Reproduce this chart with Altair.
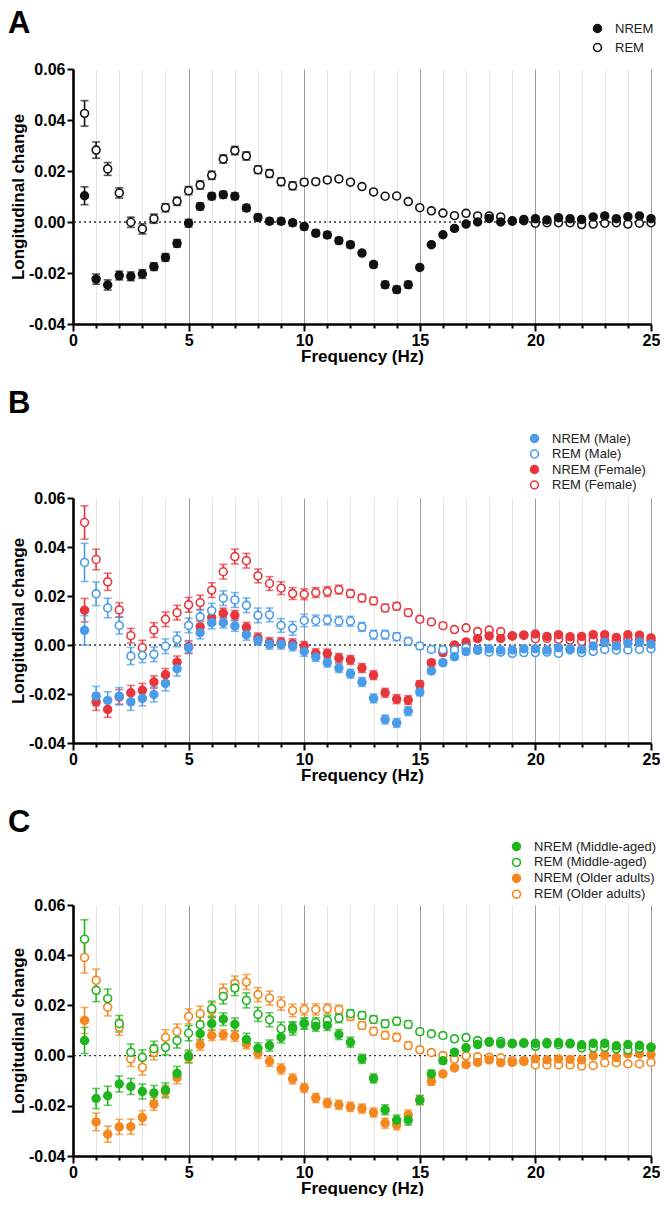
import altair as alt
import pandas as pd

FREQ = [0.5, 1.0, 1.5, 2.0, 2.5, 3.0, 3.5, 4.0, 4.5, 5.0,
        5.5, 6.0, 6.5, 7.0, 7.5, 8.0, 8.5, 9.0, 9.5, 10.0,
        10.5, 11.0, 11.5, 12.0, 12.5, 13.0, 13.5, 14.0, 14.5, 15.0,
        15.5, 16.0, 16.5, 17.0, 17.5, 18.0, 18.5, 19.0, 19.5, 20.0,
        20.5, 21.0, 21.5, 22.0, 22.5, 23.0, 23.5, 24.0, 24.5, 25.0]

# ---------------- Panel A ----------------
A_NAMES = ["NREM", "REM"]
A_COLORS = ["#111111", "#111111"]
A_FILLS = ["#111111", "white"]
A_NREM = [0.0103, -0.0224, -0.0247, -0.0210, -0.0213, -0.0204, -0.0175, -0.0139, -0.0084, -0.0005,
          0.0061, 0.0101, 0.0107, 0.0101, 0.0055, 0.0018, 0.0003, 0.0003, -0.0003, -0.0018,
          -0.0044, -0.0051, -0.0073, -0.0089, -0.0122, -0.0167, -0.0246, -0.0265, -0.0246, -0.0178,
          -0.0089, -0.0050, -0.0025, -0.0008, 0.0000, 0.0014, 0.0000, 0.0003, 0.0010, 0.0013,
          0.0008, 0.0017, 0.0013, 0.0010, 0.0020, 0.0024, 0.0013, 0.0021, 0.0024, 0.0013]
A_NREM_SEM = [0.0035, 0.0020, 0.0020, 0.0017, 0.0017, 0.0017, 0.0015, 0.0015, 0.0015, 0.0015,
              0.0013, 0.0013, 0.0013, 0.0013, 0.0013, 0.0012, 0.0012, 0.0012, 0.0012, 0.0012,
              0.0012, 0.0012, 0.0012, 0.0012, 0.0008, 0.0012, 0.0013, 0.0013, 0.0013, 0.0008,
              0.0006, 0.0006, 0.0006, 0.0005, 0.0005, 0.0005, 0.0005, 0.0005, 0.0005, 0.0005,
              0.0005, 0.0005, 0.0005, 0.0005, 0.0005, 0.0005, 0.0005, 0.0005, 0.0005, 0.0005]
A_REM = [0.0426, 0.0282, 0.0208, 0.0114, -0.0001, -0.0027, 0.0013, 0.0056, 0.0081, 0.0123,
         0.0145, 0.0183, 0.0247, 0.0280, 0.0259, 0.0205, 0.0190, 0.0158, 0.0142, 0.0156,
         0.0158, 0.0165, 0.0169, 0.0156, 0.0139, 0.0118, 0.0101, 0.0102, 0.0080, 0.0056,
         0.0044, 0.0035, 0.0025, 0.0034, 0.0024, 0.0024, 0.0020, 0.0005, 0.0005, -0.0005,
         -0.0003, -0.0003, -0.0003, -0.0010, -0.0008, -0.0005, -0.0003, -0.0008, -0.0005, -0.0003]
A_REM_SEM = [0.0050, 0.0032, 0.0025, 0.0020, 0.0020, 0.0020, 0.0018, 0.0016, 0.0016, 0.0016,
             0.0016, 0.0016, 0.0016, 0.0016, 0.0016, 0.0015, 0.0015, 0.0015, 0.0015, 0.0012,
             0.0010, 0.0010, 0.0008, 0.0008, 0.0007, 0.0007, 0.0007, 0.0007, 0.0006, 0.0006,
             0.0005, 0.0005, 0.0005, 0.0005, 0.0005, 0.0005, 0.0005, 0.0005, 0.0005, 0.0005,
             0.0005, 0.0005, 0.0005, 0.0005, 0.0005, 0.0005, 0.0005, 0.0005, 0.0005, 0.0005]

# ---------------- Panel B ----------------
B_NAMES = ["NREM (Male)", "REM (Male)", "NREM (Female)", "REM (Female)"]
B_COLORS = ["#4a9be8", "#4a9be8", "#e8363d", "#e8363d"]
B_FILLS = ["#4a9be8", "white", "#e8363d", "white"]
B_NREM_M = [0.0060, -0.0209, -0.0226, -0.0209, -0.0232, -0.0218, -0.0202, -0.0157, -0.0097, -0.0011,
            0.0050, 0.0091, 0.0091, 0.0078, 0.0042, 0.0019, 0.0003, 0.0003, -0.0004, -0.0026,
            -0.0049, -0.0072, -0.0094, -0.0117, -0.0151, -0.0218, -0.0304, -0.0318, -0.0270, -0.0192,
            -0.0106, -0.0072, -0.0048, -0.0027, -0.0022, -0.0015, -0.0020, -0.0020, -0.0015, -0.0015,
            -0.0020, -0.0011, -0.0015, -0.0018, -0.0004, 0.0010, -0.0004, 0.0007, 0.0012, 0.0003]
B_NREM_M_SEM = [0.0060, 0.0040, 0.0035, 0.0035, 0.0035, 0.0030, 0.0030, 0.0030, 0.0030, 0.0025,
                0.0025, 0.0025, 0.0022, 0.0022, 0.0022, 0.0020, 0.0020, 0.0020, 0.0020, 0.0020,
                0.0018, 0.0018, 0.0018, 0.0018, 0.0018, 0.0018, 0.0018, 0.0018, 0.0018, 0.0015,
                0.0012, 0.0012, 0.0012, 0.0010, 0.0008, 0.0008, 0.0008, 0.0008, 0.0008, 0.0008,
                0.0008, 0.0008, 0.0008, 0.0008, 0.0008, 0.0008, 0.0008, 0.0008, 0.0008, 0.0008]
B_REM_M = [0.0337, 0.0209, 0.0151, 0.0080, -0.0045, -0.0042, -0.0038, -0.0005, 0.0023, 0.0080,
           0.0115, 0.0140, 0.0191, 0.0184, 0.0162, 0.0121, 0.0123, 0.0080, 0.0068, 0.0100,
           0.0100, 0.0102, 0.0097, 0.0097, 0.0074, 0.0042, 0.0042, 0.0034, 0.0015, -0.0004,
           -0.0018, -0.0019, -0.0020, -0.0011, -0.0018, -0.0029, -0.0029, -0.0034, -0.0031, -0.0031,
           -0.0029, -0.0034, -0.0020, -0.0031, -0.0026, -0.0018, -0.0020, -0.0020, -0.0018, -0.0015]
B_REM_M_SEM = [0.0078, 0.0048, 0.0040, 0.0035, 0.0035, 0.0030, 0.0030, 0.0030, 0.0030, 0.0030,
               0.0030, 0.0030, 0.0030, 0.0030, 0.0030, 0.0030, 0.0028, 0.0028, 0.0028, 0.0025,
               0.0022, 0.0020, 0.0020, 0.0020, 0.0018, 0.0018, 0.0018, 0.0016, 0.0014, 0.0012,
               0.0010, 0.0010, 0.0009, 0.0008, 0.0008, 0.0008, 0.0008, 0.0008, 0.0008, 0.0008,
               0.0008, 0.0008, 0.0008, 0.0008, 0.0008, 0.0008, 0.0008, 0.0008, 0.0008, 0.0008]
B_NREM_F = [0.0142, -0.0232, -0.0263, -0.0212, -0.0195, -0.0185, -0.0151, -0.0121, -0.0070, -0.0007,
            0.0074, 0.0112, 0.0130, 0.0121, 0.0072, 0.0029, 0.0010, 0.0010, 0.0005, -0.0004,
            -0.0034, -0.0035, -0.0053, -0.0061, -0.0094, -0.0123, -0.0195, -0.0221, -0.0225, -0.0161,
            -0.0072, -0.0031, 0.0000, 0.0012, 0.0026, 0.0037, 0.0027, 0.0037, 0.0040, 0.0045,
            0.0035, 0.0042, 0.0034, 0.0035, 0.0042, 0.0042, 0.0031, 0.0042, 0.0040, 0.0029]
B_NREM_F_SEM = [0.0048, 0.0035, 0.0032, 0.0030, 0.0030, 0.0028, 0.0025, 0.0025, 0.0025, 0.0025,
                0.0022, 0.0022, 0.0020, 0.0020, 0.0020, 0.0020, 0.0020, 0.0020, 0.0020, 0.0018,
                0.0018, 0.0018, 0.0018, 0.0018, 0.0018, 0.0018, 0.0018, 0.0018, 0.0018, 0.0015,
                0.0012, 0.0012, 0.0010, 0.0010, 0.0008, 0.0008, 0.0008, 0.0008, 0.0008, 0.0008,
                0.0008, 0.0008, 0.0008, 0.0008, 0.0008, 0.0008, 0.0008, 0.0008, 0.0008, 0.0008]
B_REM_F = [0.0500, 0.0349, 0.0258, 0.0143, 0.0038, -0.0011, 0.0061, 0.0105, 0.0132, 0.0164,
           0.0173, 0.0224, 0.0299, 0.0361, 0.0344, 0.0282, 0.0251, 0.0232, 0.0210, 0.0207,
           0.0214, 0.0218, 0.0226, 0.0210, 0.0192, 0.0180, 0.0151, 0.0158, 0.0132, 0.0105,
           0.0094, 0.0079, 0.0063, 0.0070, 0.0055, 0.0061, 0.0055, 0.0037, 0.0040, 0.0026,
           0.0027, 0.0023, 0.0020, 0.0014, 0.0020, 0.0018, 0.0018, 0.0023, 0.0020, 0.0018]
B_REM_F_SEM = [0.0068, 0.0042, 0.0035, 0.0030, 0.0030, 0.0030, 0.0030, 0.0030, 0.0030, 0.0030,
               0.0030, 0.0030, 0.0030, 0.0030, 0.0030, 0.0028, 0.0028, 0.0026, 0.0024, 0.0022,
               0.0020, 0.0020, 0.0018, 0.0016, 0.0015, 0.0015, 0.0015, 0.0015, 0.0014, 0.0012,
               0.0010, 0.0010, 0.0009, 0.0008, 0.0008, 0.0008, 0.0008, 0.0008, 0.0008, 0.0008,
               0.0008, 0.0008, 0.0008, 0.0008, 0.0008, 0.0008, 0.0008, 0.0008, 0.0008, 0.0008]

# ---------------- Panel C ----------------
C_NAMES = ["NREM (Middle-aged)", "REM (Middle-aged)", "NREM (Older adults)", "REM (Older adults)"]
C_COLORS = ["#1fb51f", "#1fb51f", "#f5871f", "#f5871f"]
C_FILLS = ["#1fb51f", "white", "#f5871f", "white"]
C_NREM_MID = [0.0060, -0.0171, -0.0160, -0.0113, -0.0123, -0.0143, -0.0149, -0.0137, -0.0071, -0.0003,
              0.0087, 0.0127, 0.0145, 0.0125, 0.0064, 0.0029, 0.0040, 0.0073, 0.0113, 0.0129,
              0.0117, 0.0120, 0.0084, 0.0053, -0.0013, -0.0091, -0.0216, -0.0257, -0.0257, -0.0177,
              -0.0073, -0.0020, 0.0013, 0.0031, 0.0044, 0.0056, 0.0047, 0.0049, 0.0051, 0.0049,
              0.0052, 0.0052, 0.0049, 0.0043, 0.0049, 0.0049, 0.0039, 0.0044, 0.0041, 0.0033]
C_NREM_MID_SEM = [0.0052, 0.0040, 0.0038, 0.0032, 0.0032, 0.0030, 0.0030, 0.0028, 0.0028, 0.0025,
                  0.0025, 0.0025, 0.0025, 0.0025, 0.0025, 0.0022, 0.0022, 0.0022, 0.0022, 0.0022,
                  0.0020, 0.0020, 0.0020, 0.0020, 0.0018, 0.0018, 0.0020, 0.0020, 0.0020, 0.0018,
                  0.0015, 0.0012, 0.0010, 0.0010, 0.0008, 0.0008, 0.0008, 0.0008, 0.0008, 0.0008,
                  0.0008, 0.0008, 0.0008, 0.0008, 0.0008, 0.0008, 0.0008, 0.0008, 0.0008, 0.0008]
C_REM_MID = [0.0464, 0.0260, 0.0227, 0.0127, 0.0013, -0.0007, 0.0027, 0.0033, 0.0060, 0.0089,
             0.0123, 0.0187, 0.0236, 0.0269, 0.0220, 0.0164, 0.0143, 0.0107, 0.0107, 0.0127,
             0.0131, 0.0140, 0.0149, 0.0167, 0.0160, 0.0144, 0.0127, 0.0137, 0.0124, 0.0095,
             0.0087, 0.0080, 0.0067, 0.0072, 0.0060, 0.0053, 0.0056, 0.0047, 0.0049, 0.0037,
             0.0047, 0.0044, 0.0047, 0.0031, 0.0031, 0.0033, 0.0027, 0.0023, 0.0029, 0.0033]
C_REM_MID_SEM = [0.0077, 0.0045, 0.0038, 0.0033, 0.0033, 0.0030, 0.0030, 0.0030, 0.0030, 0.0030,
                 0.0030, 0.0030, 0.0030, 0.0030, 0.0030, 0.0028, 0.0028, 0.0026, 0.0025, 0.0022,
                 0.0020, 0.0020, 0.0018, 0.0016, 0.0015, 0.0015, 0.0015, 0.0015, 0.0014, 0.0012,
                 0.0010, 0.0010, 0.0009, 0.0008, 0.0008, 0.0008, 0.0008, 0.0008, 0.0008, 0.0008,
                 0.0008, 0.0008, 0.0008, 0.0008, 0.0008, 0.0008, 0.0008, 0.0008, 0.0008, 0.0008]
C_NREM_OLD = [0.0140, -0.0264, -0.0313, -0.0284, -0.0283, -0.0247, -0.0193, -0.0144, -0.0087, -0.0007,
              0.0043, 0.0080, 0.0083, 0.0077, 0.0047, 0.0009, -0.0023, -0.0053, -0.0093, -0.0129,
              -0.0169, -0.0189, -0.0196, -0.0204, -0.0211, -0.0227, -0.0269, -0.0276, -0.0237, -0.0177,
              -0.0103, -0.0073, -0.0049, -0.0036, -0.0027, -0.0017, -0.0028, -0.0027, -0.0020, -0.0013,
              -0.0017, -0.0013, -0.0015, -0.0017, -0.0001, 0.0003, -0.0008, 0.0007, 0.0007, 0.0004]
C_NREM_OLD_SEM = [0.0052, 0.0035, 0.0032, 0.0030, 0.0030, 0.0028, 0.0025, 0.0025, 0.0025, 0.0022,
                  0.0022, 0.0020, 0.0020, 0.0020, 0.0020, 0.0020, 0.0020, 0.0020, 0.0020, 0.0018,
                  0.0018, 0.0018, 0.0018, 0.0018, 0.0018, 0.0018, 0.0020, 0.0020, 0.0020, 0.0018,
                  0.0015, 0.0010, 0.0009, 0.0008, 0.0008, 0.0008, 0.0008, 0.0008, 0.0008, 0.0008,
                  0.0008, 0.0008, 0.0008, 0.0008, 0.0008, 0.0008, 0.0008, 0.0008, 0.0008, 0.0008]
C_REM_OLD = [0.0391, 0.0300, 0.0193, 0.0113, -0.0013, -0.0047, 0.0013, 0.0073, 0.0096, 0.0156,
             0.0167, 0.0180, 0.0255, 0.0287, 0.0293, 0.0243, 0.0229, 0.0207, 0.0180, 0.0184,
             0.0184, 0.0187, 0.0183, 0.0156, 0.0120, 0.0097, 0.0081, 0.0073, 0.0040, 0.0023,
             0.0012, 0.0000, -0.0015, -0.0001, -0.0005, -0.0007, -0.0009, -0.0020, -0.0024, -0.0037,
             -0.0037, -0.0037, -0.0037, -0.0041, -0.0039, -0.0028, -0.0028, -0.0033, -0.0033, -0.0027]
C_REM_OLD_SEM = [0.0062, 0.0045, 0.0035, 0.0032, 0.0030, 0.0030, 0.0030, 0.0030, 0.0030, 0.0030,
                 0.0030, 0.0030, 0.0030, 0.0030, 0.0030, 0.0028, 0.0028, 0.0026, 0.0025, 0.0022,
                 0.0022, 0.0020, 0.0018, 0.0016, 0.0015, 0.0015, 0.0015, 0.0015, 0.0014, 0.0012,
                 0.0010, 0.0010, 0.0009, 0.0008, 0.0008, 0.0008, 0.0008, 0.0008, 0.0008, 0.0008,
                 0.0008, 0.0008, 0.0008, 0.0008, 0.0008, 0.0008, 0.0008, 0.0008, 0.0008, 0.0008]

FONT = "Liberation Sans"
W = 578


def make_panel(letter, names, colors, fills, values, sems, height,
               letter_y, legend_x, legend_y, row_pad):
    rows = []
    for name, vals, sem in zip(names, values, sems):
        for f, v, s in zip(FREQ, vals, sem):
            rows.append({"freq": f, "v": v, "sem": s, "series": name, "eb": name + " err"})
    df = pd.DataFrame(rows).iloc[::-1].reset_index(drop=True)

    x = alt.X("freq:Q",
              scale=alt.Scale(domain=[0, 25], nice=False, zero=False),
              axis=alt.Axis(
                  title="Frequency (Hz)",
                  values=list(range(0, 26)),
                  labelExpr="datum.value % 5 === 0 ? datum.label : ''",
                  grid=True,
                  gridColor=alt.condition("datum.value % 5 === 0",
                                          alt.value("#9c9c9c"), alt.value("#e4e4e4")),
                  gridWidth=1,
                  tickSize=alt.condition("datum.value % 5 === 0",
                                         alt.value(7), alt.value(4)),
                  labelPadding=1,
                  titlePadding=0,
                  labelFlush=False,
              ))
    y = alt.Y("v:Q",
              scale=alt.Scale(domain=[-0.04, 0.06], nice=False, zero=False),
              axis=alt.Axis(
                  title="Longitudinal change",
                  values=[-0.04, -0.02, 0.0, 0.02, 0.04, 0.06],
                  format=".2f",
                  labelExpr="replace(datum.label, '\u2212', '-')",
                  grid=False,
                  tickSize=6,
                  labelPadding=2,
                  titlePadding=1,
              ))

    zero = alt.Chart(pd.DataFrame({"v": [0.0]})).mark_rule(
        strokeDash=[2, 3], color="#333333", strokeWidth=1.3
    ).encode(y=y)

    err = alt.Chart(df).mark_errorbar(
        ticks={"size": 8, "thickness": 1.6}, thickness=1.6
    ).encode(
        x=x, y=y, yError="sem:Q",
        color=alt.Color("eb:N", scale=alt.Scale(domain=[n + " err" for n in names], range=colors),
                        legend=None),
    )

    leg = alt.Legend(
        title=None, orient="none", legendX=legend_x, legendY=legend_y,
        labelFont=FONT, labelFontSize=13, labelColor="#222222",
        symbolType="circle", symbolSize=62, symbolStrokeWidth=1.6,
        labelOffset=11, rowPadding=row_pad, padding=0,
    )
    pts = alt.Chart(df).mark_point(
        shape="circle", size=62, strokeWidth=1.6, opacity=1, filled=True
    ).encode(
        x=x, y=y,
        stroke=alt.Stroke("series:N", scale=alt.Scale(domain=names, range=colors), legend=leg),
        fill=alt.Fill("series:N", scale=alt.Scale(domain=names, range=fills), legend=leg),
    )

    txt = alt.Chart(pd.DataFrame({"t": [letter]})).mark_text(
        align="left", baseline="top", fontSize=31, fontWeight="bold", font=FONT, color="black"
    ).encode(text="t:N", x=alt.value(-65), y=alt.value(letter_y))

    return alt.layer(zero, err, pts, txt).properties(width=W, height=height)


pA = make_panel("A", A_NAMES, A_COLORS, A_FILLS, [A_NREM, A_REM], [A_NREM_SEM, A_REM_SEM],
                255, -60, W - 60, -47, 4)
pB = make_panel("B", B_NAMES, B_COLORS, B_FILLS,
                [B_NREM_M, B_REM_M, B_NREM_F, B_REM_F],
                [B_NREM_M_SEM, B_REM_M_SEM, B_NREM_F_SEM, B_REM_F_SEM],
                245, -109, W - 123, -66, 0.5)
pC = make_panel("C", C_NAMES, C_COLORS, C_FILLS,
                [C_NREM_MID, C_REM_MID, C_NREM_OLD, C_REM_OLD],
                [C_NREM_MID_SEM, C_REM_MID_SEM, C_NREM_OLD_SEM, C_REM_OLD_SEM],
                251, -97, W - 141, -65, 0.9)

chart = alt.vconcat(pA, pB, pC, spacing=24).resolve_scale(
    color="independent", stroke="independent", fill="independent"
).resolve_legend(
    color="independent", stroke="independent", fill="independent"
).properties(
    padding={"left": 0, "top": 0, "right": 0, "bottom": 0}
).configure_view(stroke=None).configure_axis(
    domainColor="black", domainWidth=2.6, tickColor="black", tickWidth=2,
    labelFont=FONT, labelFontWeight="bold", labelFontSize=16, labelColor="black",
    titleFont=FONT, titleFontWeight="bold", titleFontSize=17, titleColor="black",
)

chart.save("out.html", embed_options={"renderer": "svg", "actions": False})
